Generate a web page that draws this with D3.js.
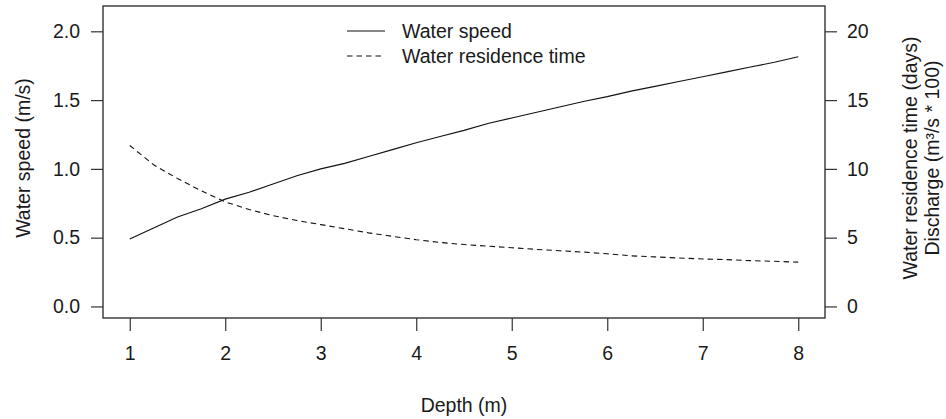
<!DOCTYPE html>
<html>
<head>
<meta charset="utf-8">
<script src="https://cdn.jsdelivr.net/npm/d3@7"></script>
<style>
  html, body { margin: 0; padding: 0; background: #fff; }
  svg { display: block; }
  text { font-family: "Liberation Sans", Arial, Helvetica, sans-serif; fill: #1a1a1a; }
</style>
</head>
<body>
<svg id="chart" width="946" height="419"></svg>
<script>
// ---- data ----
const depth = [1, 1.25, 1.5, 1.75, 2, 2.25, 2.5, 2.75, 3, 3.25, 3.5, 3.75, 4, 4.25, 4.5, 4.75,
               5, 5.25, 5.5, 5.75, 6, 6.25, 6.5, 6.75, 7, 7.25, 7.5, 7.75, 8];
const waterSpeed = [0.49, 0.57, 0.65, 0.71, 0.78, 0.83, 0.89, 0.95, 1.00, 1.04, 1.09, 1.14, 1.19, 1.235, 1.28, 1.33,
                    1.37, 1.41, 1.45, 1.49, 1.525, 1.565, 1.60, 1.635, 1.67, 1.705, 1.74, 1.775, 1.815];
const residenceTime = [11.7, 10.3, 9.3, 8.4, 7.6, 7.05, 6.6, 6.25, 5.95, 5.65, 5.35, 5.1, 4.85, 4.65, 4.5, 4.38,
                       4.27, 4.15, 4.05, 3.95, 3.83, 3.68, 3.6, 3.52, 3.45, 3.4, 3.33, 3.28, 3.22];
const xTicks = [1, 2, 3, 4, 5, 6, 7, 8];
const leftTicks = [0, 0.5, 1, 1.5, 2];
const rightTicks = [0, 5, 10, 15, 20];
const seriesNames = ["Water speed", "Water residence time"];

// ---- layout ----
const box = { left: 103, right: 825, top: 6, bottom: 318 };
const fontSize = 19.5;
const svg = d3.select("#chart");

const x = d3.scaleLinear().domain([0.72, 8.28]).range([box.left, box.right]);
const yL = d3.scaleLinear().domain([-0.084, 2.184]).range([box.bottom, box.top]);
const yR = d3.scaleLinear().domain([-0.84, 21.84]).range([box.bottom, box.top]);

function styleAxis(g) {
  g.select(".domain").remove();
  g.selectAll(".tick line").attr("stroke", "#333").attr("stroke-width", 1.2);
  g.selectAll(".tick text").style("font-size", fontSize + "px").attr("fill", "#1a1a1a");
}

svg.append("g")
  .attr("transform", `translate(0,${box.bottom})`)
  .call(d3.axisBottom(x).tickValues(xTicks).tickFormat(d3.format("d")).tickSize(13).tickPadding(15))
  .call(styleAxis);

svg.append("g")
  .attr("transform", `translate(${box.left},0)`)
  .call(d3.axisLeft(yL).tickValues(leftTicks).tickFormat(d3.format(".1f")).tickSize(12).tickPadding(11))
  .call(styleAxis);

svg.append("g")
  .attr("transform", `translate(${box.right},0)`)
  .call(d3.axisRight(yR).tickValues(rightTicks).tickFormat(d3.format("d")).tickSize(12).tickPadding(10))
  .call(styleAxis);

// box
svg.append("rect")
  .attr("x", box.left).attr("y", box.top)
  .attr("width", box.right - box.left).attr("height", box.bottom - box.top)
  .attr("fill", "none").attr("stroke", "#333").attr("stroke-width", 1.4);

// lines
const speedLine = d3.line().x((d, i) => x(depth[i])).y(d => yL(d));
const resLine = d3.line().x((d, i) => x(depth[i])).y(d => yR(d));

svg.append("path").datum(waterSpeed)
  .attr("d", speedLine).attr("fill", "none").attr("stroke", "#111").attr("stroke-width", 1.1);
svg.append("path").datum(residenceTime)
  .attr("d", resLine).attr("fill", "none").attr("stroke", "#111").attr("stroke-width", 1.1)
  .attr("stroke-dasharray", "5.5,4");

// axis titles
svg.append("text")
  .attr("transform", `translate(23,${(box.top + box.bottom) / 2 - 4}) rotate(-90)`)
  .attr("text-anchor", "middle").attr("dominant-baseline", "central")
  .style("font-size", fontSize + "px").text("Water speed (m/s)");

svg.append("text")
  .attr("x", (box.left + box.right) / 2).attr("y", 405)
  .attr("text-anchor", "middle").attr("dominant-baseline", "central")
  .style("font-size", fontSize + "px").text("Depth (m)");

const rt = svg.append("text")
  .attr("transform", `translate(910,${(box.top + box.bottom) / 2 - 4}) rotate(-90)`)
  .attr("text-anchor", "middle")
  .style("font-size", fontSize + "px");
rt.append("tspan").attr("x", 0).attr("dy", "0.35em").text("Water residence time (days)");
rt.append("tspan").attr("x", 0).attr("dy", "1.15em").text("Discharge (m\u00B3/s * 100)");

// legend
const legendY = [31, 56];
const dashes = [null, "5.5,4"];
seriesNames.forEach((name, i) => {
  svg.append("line")
    .attr("x1", 347).attr("x2", 385).attr("y1", legendY[i]).attr("y2", legendY[i])
    .attr("stroke", "#111").attr("stroke-width", 1.1)
    .attr("stroke-dasharray", dashes[i]);
  svg.append("text")
    .attr("x", 402).attr("y", legendY[i])
    .attr("dominant-baseline", "central")
    .style("font-size", fontSize + "px").text(name);
});
</script>
</body>
</html>
